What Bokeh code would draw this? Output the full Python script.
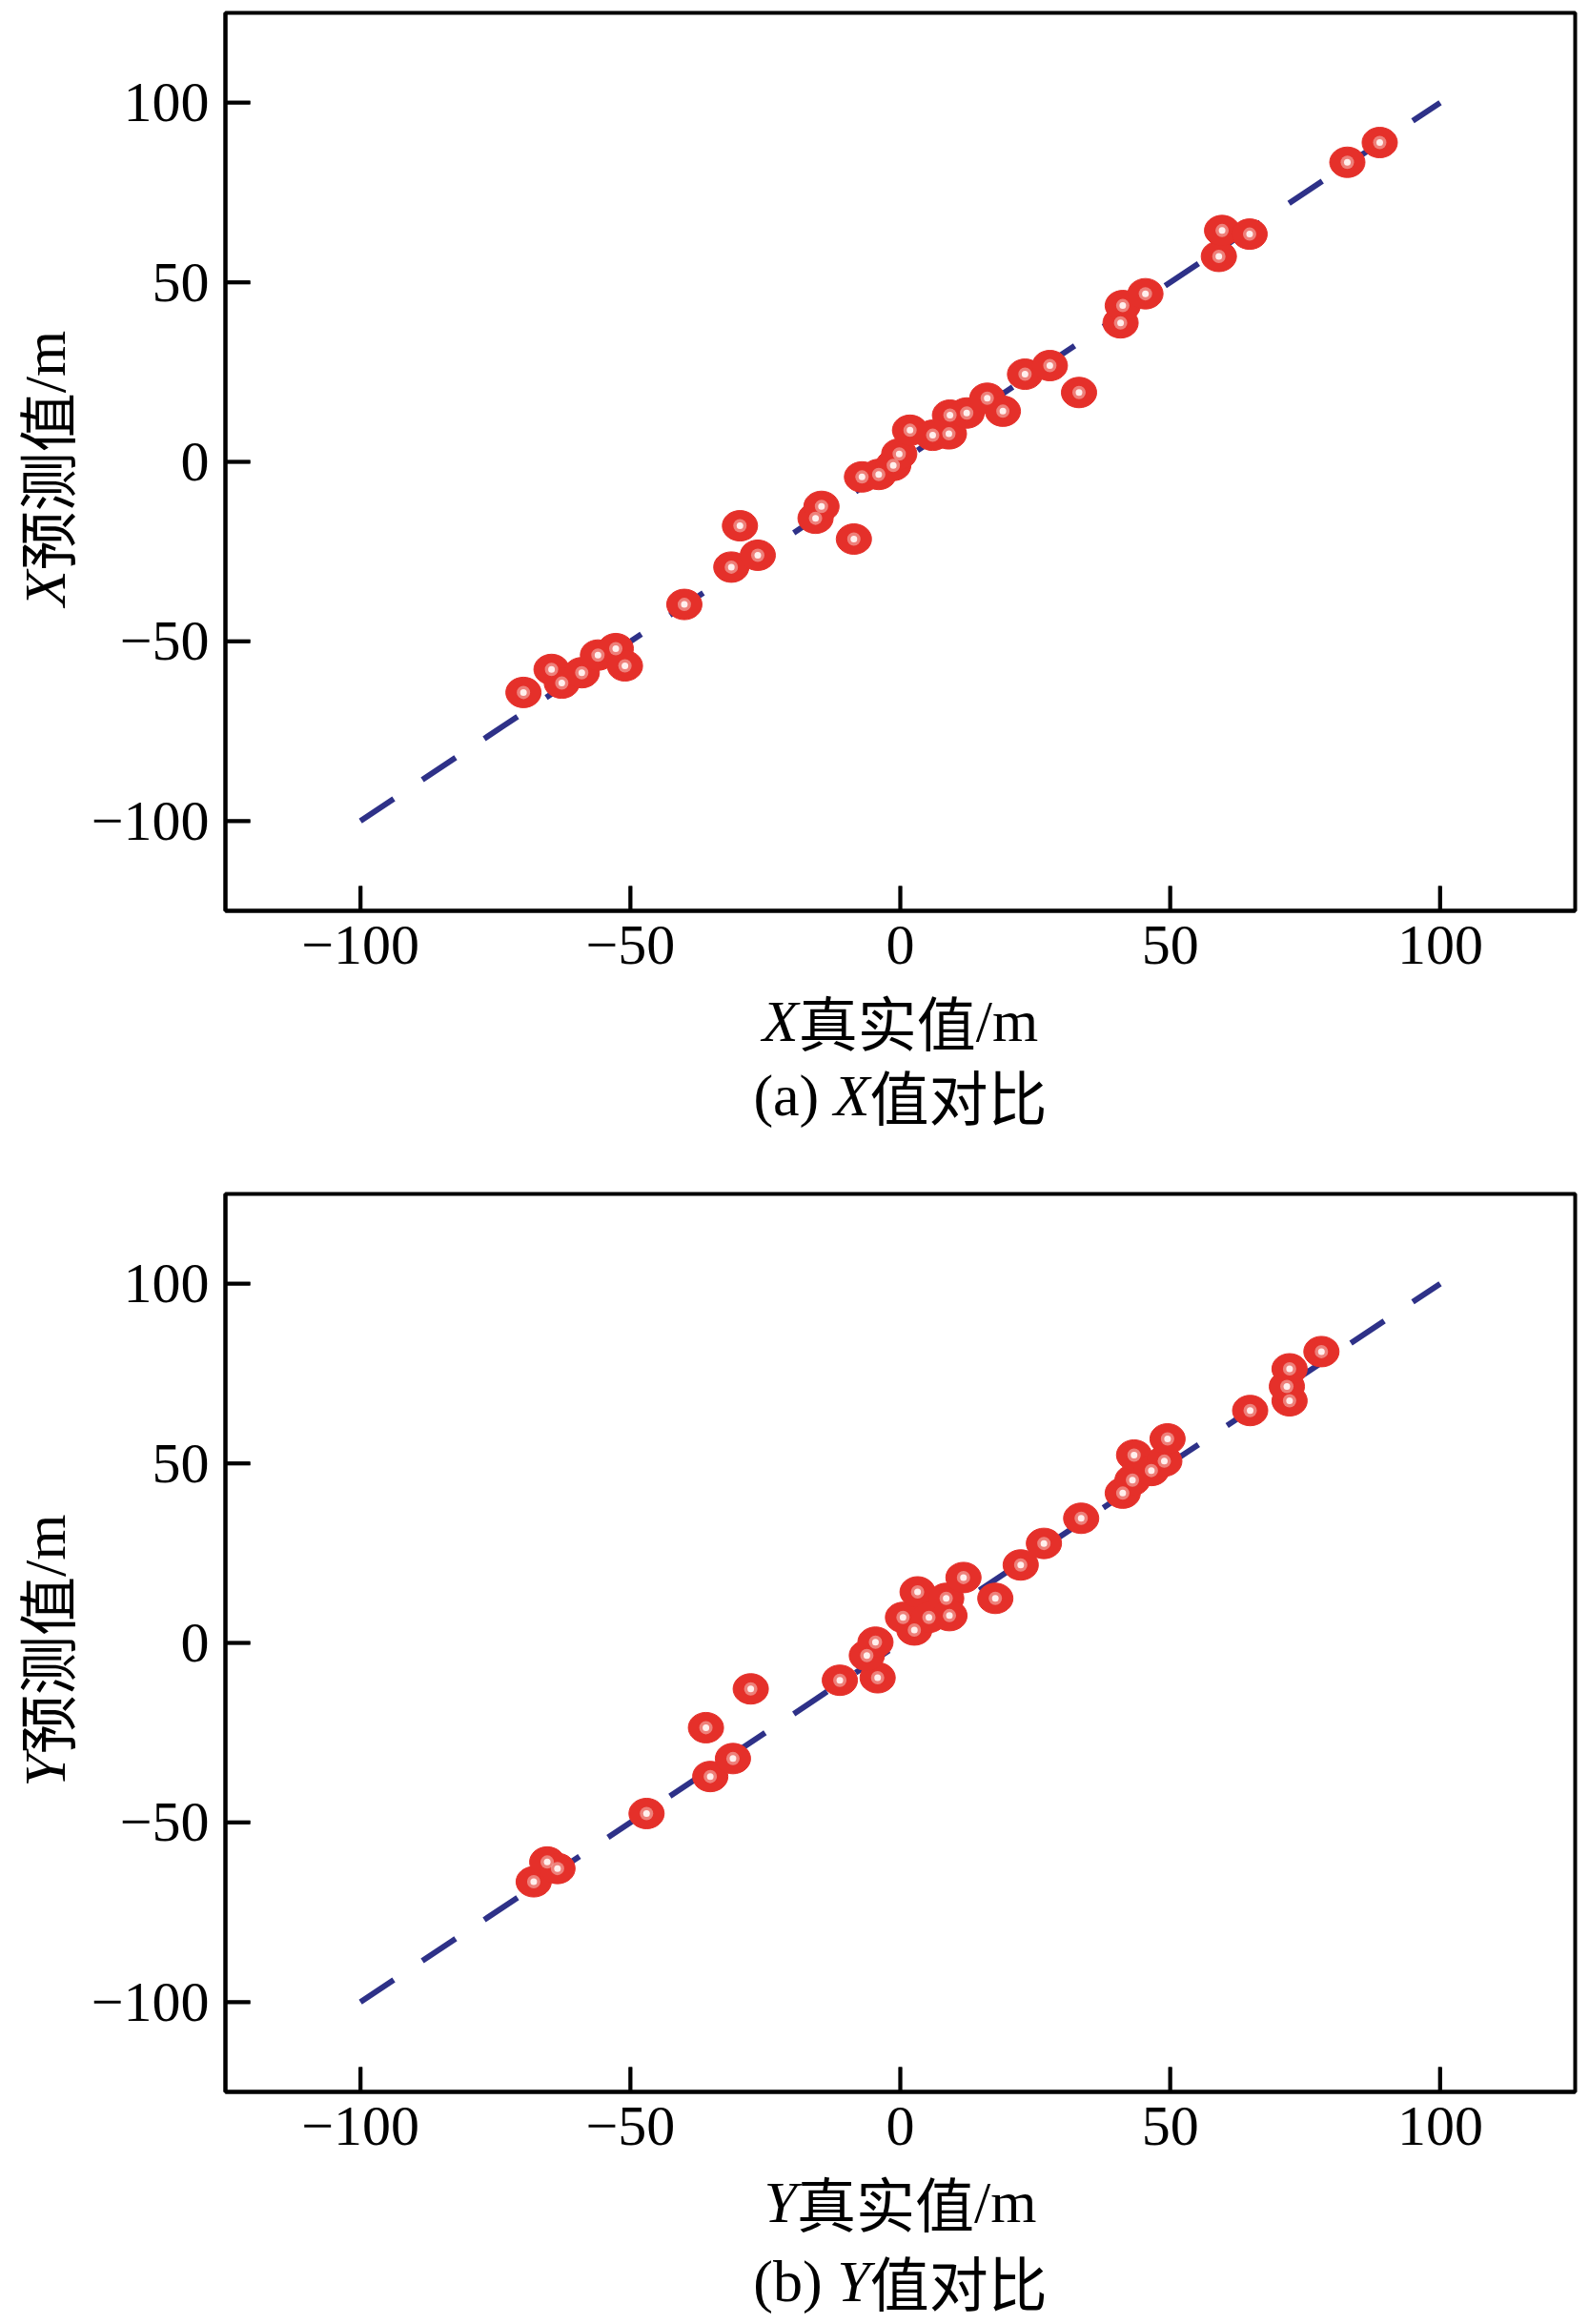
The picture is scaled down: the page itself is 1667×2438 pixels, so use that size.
import math
from bokeh.plotting import figure
from bokeh.layouts import column, row
from bokeh.models import Label, FixedTicker
from bokeh.embed import file_html
from bokeh.resources import INLINE

# ---------------- data ----------------
# (a) X comparison
x_true = [-69.8, -64.6, -62.7, -59.0, -56.0, -52.7, -51.0, -40.0, -31.3, -29.7,
          -26.4, -15.7, -14.6, -8.6, -7.1, -4.0, -1.3, -0.2, 1.8, 6.0,
          9.2, 9.0, 12.3, 16.1, 19.0, 23.1, 27.7, 33.1, 40.8, 41.2,
          45.4, 59.0, 59.6, 64.7, 82.8, 88.8]
x_pred = [-64.2, -57.8, -61.6, -58.7, -53.8, -52.0, -56.8, -39.7, -29.3, -17.8,
          -26.0, -15.7, -12.4, -21.5, -4.2, -3.5, -1.0, 2.2, 8.8, 7.4,
          13.0, 7.8, 13.6, 17.7, 14.1, 24.4, 26.8, 19.3, 38.7, 43.5,
          46.8, 57.2, 64.4, 63.4, 83.4, 88.9]

# (b) Y comparison
y_true = [-67.9, -65.4, -63.5, -47.0, -36.0, -35.2, -31.0, -27.7, -11.2, -4.2,
          -6.2, -4.6, 0.5, 2.6, 3.2, 5.3, 8.5, 9.1, 11.7, 17.6,
          22.3, 26.6, 33.5, 41.2, 43.0, 43.3, 46.5, 48.9, 49.5, 64.8,
          72.1, 71.6, 72.1, 78.0]
y_pred = [-66.5, -61.0, -62.8, -47.5, -23.6, -37.2, -32.2, -12.8, -10.4, -9.7,
          -3.5, 0.2, 7.1, 3.6, 14.2, 7.1, 12.4, 7.6, 18.2, 12.4,
          21.7, 27.7, 34.7, 41.7, 45.3, 52.3, 48.0, 50.6, 56.8, 64.7,
          67.4, 71.4, 76.3, 81.1]

ideal_line = [-100, 100]
ticks = [-100, -50, 0, 50, 100]
tick_labels = {-100: "\u2212100", -50: "\u221250", 0: "0", 50: "50", 100: "100"}
axis_lo, axis_hi = -125.0, 125.0

FRAME_W, FRAME_H = 1416, 942
TICK_PX = 26

RED = "#e5302a"
NAVY = "#2e3188"
SERIF = "Liberation Serif"
CJK = "Noto Sans CJK SC"
FS = "62px"
CW = 62.0                       # CJK glyph advance
SLASH_M = (0.278 + 0.778) * 62  # "/m" advance
OVERLAP = 45                    # label strip pulled up over the tick-label band


def letter_w(letter):
    return (0.611 if letter == "X" else 0.556) * 62


def blank_fig(w, h, transparent=False):
    f = figure(width=w, height=h, x_range=(0, 1), y_range=(0, 1),
               output_backend="svg", toolbar_location=None,
               min_border=0, min_border_left=0, min_border_right=0,
               min_border_top=0, min_border_bottom=0)
    f.axis.visible = False
    f.grid.visible = False
    f.outline_line_color = None
    fill = None if transparent else "white"
    f.background_fill_color = fill
    f.border_fill_color = fill
    return f


def lab(f, x, y, text, font, style="normal", angle=0.0, baseline="alphabetic"):
    f.add_layout(Label(x=x, y=y, x_units="screen", y_units="screen",
                       text=text, text_font=font, text_font_size=FS,
                       text_font_style=style, text_color="black",
                       text_align="left", text_baseline=baseline,
                       angle=angle))


def main_panel(xs, ys, top_border):
    p = figure(frame_width=FRAME_W, frame_height=FRAME_H,
               x_range=(axis_lo, axis_hi), y_range=(axis_lo, axis_hi),
               output_backend="svg", toolbar_location=None,
               min_border_left=146, min_border_right=7,
               min_border_top=top_border, min_border_bottom=82,
               background_fill_color="white", border_fill_color="white")
    p.margin = (0, 0, 0, -10)
    p.grid.visible = False
    p.outline_line_color = "black"
    p.outline_line_width = 4
    for ax in (p.xaxis[0], p.yaxis[0]):
        ax.ticker = FixedTicker(ticks=ticks)
        ax.major_label_overrides = tick_labels
        ax.major_tick_in = TICK_PX
        ax.major_tick_out = 0
        ax.major_tick_line_width = 3.5
        ax.major_tick_line_color = "black"
        ax.minor_tick_line_color = None
        ax.axis_line_width = 4
        ax.axis_line_color = "black"
        ax.major_label_text_font = SERIF
        ax.major_label_text_font_size = "60px"
        ax.major_label_text_color = "black"
    p.xaxis.major_label_standoff = 16
    p.yaxis.major_label_standoff = 17

    p.line(ideal_line, ideal_line, line_color=NAVY, line_width=6,
           line_dash="42 36")
    p.ellipse(xs, ys, width=37, height=32, width_units="screen",
              height_units="screen", fill_color=RED, line_color=RED,
              line_width=1)
    p.scatter(xs, ys, size=14, fill_color="#f2a39c", line_color=None,
              fill_alpha=0.7)
    p.scatter(xs, ys, size=7, fill_color="#fff4f3", line_color=None,
              fill_alpha=0.95)

    # inward tick marks (26 px long) drawn on top of everything
    dy = TICK_PX * (axis_hi - axis_lo) / FRAME_H
    dx = TICK_PX * (axis_hi - axis_lo) / FRAME_W
    n = len(ticks)
    s1 = p.segment(x0=ticks, y0=[axis_lo] * n, x1=ticks, y1=[axis_lo + dy] * n,
                   line_color="black", line_width=4)
    s2 = p.segment(x0=[axis_lo] * n, y0=ticks, x1=[axis_lo + dx] * n, y1=ticks,
                   line_color="black", line_width=4)
    s1.level = "overlay"
    s2.level = "overlay"
    return p


def y_label_fig(letter, h, yc):
    f = blank_fig(100, h, transparent=True)
    lw = letter_w(letter)
    total = lw + 3 * CW + SLASH_M
    y0 = yc - total / 2
    bx = 46
    a = math.pi / 2
    lab(f, bx, y0, letter, SERIF, "italic", a, "middle")
    lab(f, bx, y0 + lw, "预测值", CJK, angle=a, baseline="middle")
    lab(f, bx, y0 + lw + 3 * CW, "/m", SERIF, angle=a, baseline="middle")
    return f


def x_label_fig(letter, tag, h, y_axis, y_cap):
    f = blank_fig(1659, h + OVERLAP, transparent=True)
    f.margin = (-OVERLAP, 0, 0, 0)
    cx = 944
    lw = letter_w(letter)
    total = lw + 3 * CW + SLASH_M
    x0 = cx - total / 2
    lab(f, x0, y_axis, letter, SERIF, "italic")
    lab(f, x0 + lw, y_axis, "真实值", CJK)
    lab(f, x0 + lw + 3 * CW, y_axis, "/m", SERIF)

    pre = "(%s) " % tag
    pre_w = (0.333 + (0.444 if tag == "a" else 0.5) + 0.333 + 0.25) * 62
    ctotal = pre_w + lw + 3 * CW
    c0 = cx - ctotal / 2
    lab(f, c0, y_cap, pre, SERIF)
    lab(f, c0 + pre_w, y_cap, letter, SERIF, "italic")
    lab(f, c0 + pre_w + lw, y_cap, "值对比", CJK)
    return f


p1 = main_panel(x_true, x_pred, 13)       # height 13+942+82 = 1037
p2 = main_panel(y_true, y_pred, 52)       # height 52+942+82 = 1076
yl1 = y_label_fig("X", 1037, 464)
yl2 = y_label_fig("Y", 1076, 463)
xl1 = x_label_fig("X", "a", 163, 130, 52)
xl2 = x_label_fig("Y", "b", 162, 129, 46)

layout = column(row(yl1, p1), xl1, row(yl2, p2), xl2)
open("out.html", "w").write(file_html(layout, INLINE))
